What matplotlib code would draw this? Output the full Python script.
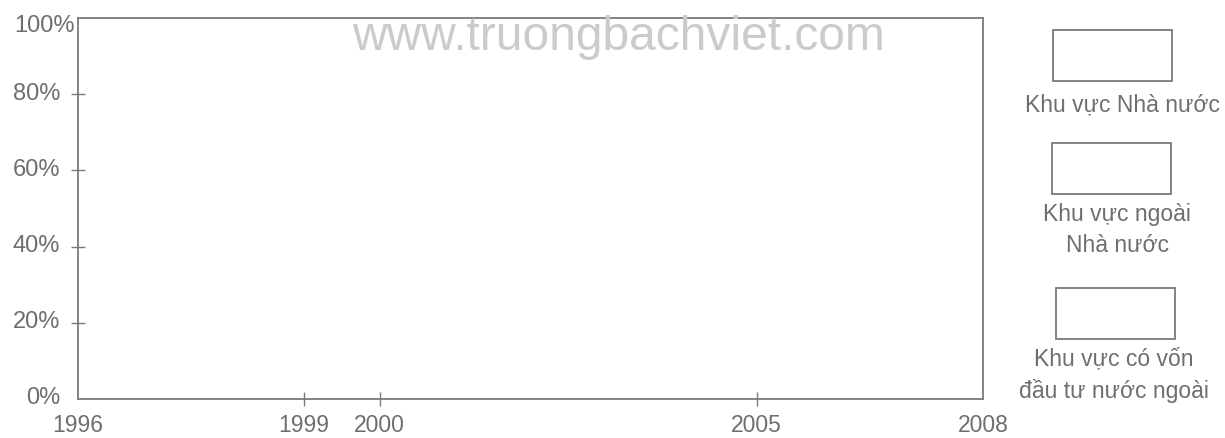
import matplotlib
matplotlib.use("Agg")
import matplotlib.pyplot as plt
from matplotlib.patches import Rectangle
from matplotlib.transforms import ScaledTranslation

# empty template: years on x, percent on y, three legend boxes (no data yet)
years = [1996, 1999, 2000, 2005, 2008]
percent_ticks = [0, 20, 40, 60, 80, 100]
percent_labels = ["0%", "20%", "40%", "60%", "80%", "100%"]
legend_labels = ["Khu vực Nhà nước", "Khu vực ngoài\nNhà nước",
                 "Khu vực có vốn\nđầu tư nước ngoài"]
watermark = "www.truongbachviet.com"

plt.rcParams['font.family'] = ['Liberation Sans', 'DejaVu Sans']
grey = '#7a7a7a'
text_grey = '#6e6e6e'

W, H = 1225, 438
fig = plt.figure(figsize=(W / 100, H / 100), dpi=100)
ax = fig.add_axes([78 / W, 1 - 399 / H, (983 - 78) / W, (399 - 18) / H])

ax.set_xlim(years[0], years[-1])
ax.set_ylim(percent_ticks[0], percent_ticks[-1])
ax.set_xticks(years)
ax.set_xticklabels([str(y) for y in years])
ax.set_yticks(percent_ticks)
ax.set_yticklabels(percent_labels)

for s in ax.spines.values():
    s.set_color(grey)
    s.set_linewidth(1.3)

ax.tick_params(axis='both', direction='inout', length=10, width=1.0,
               color=grey, labelcolor=text_grey)
ax.tick_params(axis='x', pad=6, labelsize=16.5)
ax.tick_params(axis='y', pad=8, labelsize=17)
# end ticks hidden like the printed sheet
for t in [ax.xaxis.get_major_ticks()[0], ax.xaxis.get_major_ticks()[-1]]:
    t.tick1line.set_visible(False)
    t.tick2line.set_visible(False)
for t in [ax.yaxis.get_major_ticks()[0], ax.yaxis.get_major_ticks()[-1]]:
    t.tick1line.set_visible(False)
    t.tick2line.set_visible(False)

# y labels sit a little above their ticks; 100% is pushed right as on the sheet
ylabs = ax.get_yticklabels()
for i, lab in enumerate(ylabs):
    dx = 15 / 100 if i == len(ylabs) - 1 else 0
    dy = -5 / 100 if i == len(ylabs) - 1 else 3 / 100
    lab.set_transform(lab.get_transform() + ScaledTranslation(dx, dy, fig.dpi_scale_trans))

fig.text(352 / W, 1 - 50 / H, watermark, ha='left', va='baseline',
         fontsize=34.5, color='#cbcbcb')

# legend boxes with captions underneath
box_tops = [30, 143, 288]
box_lefts = [1053, 1052, 1056]
label_x = [1122, 1117, 1114]
label_y = [105, 230, 375]
for top, left, lx, ly, lab in zip(box_tops, box_lefts, label_x, label_y, legend_labels):
    fig.patches.append(Rectangle((left / W, 1 - (top + 51) / H), 119 / W, 51 / H,
                                 transform=fig.transFigure, fill=False,
                                 edgecolor=grey, linewidth=1.3))
    fig.text(lx / W, 1 - ly / H, lab, ha='center', va='center', fontsize=16.5,
             color=text_grey, linespacing=1.45, multialignment='center')

fig.savefig("out.png", dpi=100, facecolor='white')
